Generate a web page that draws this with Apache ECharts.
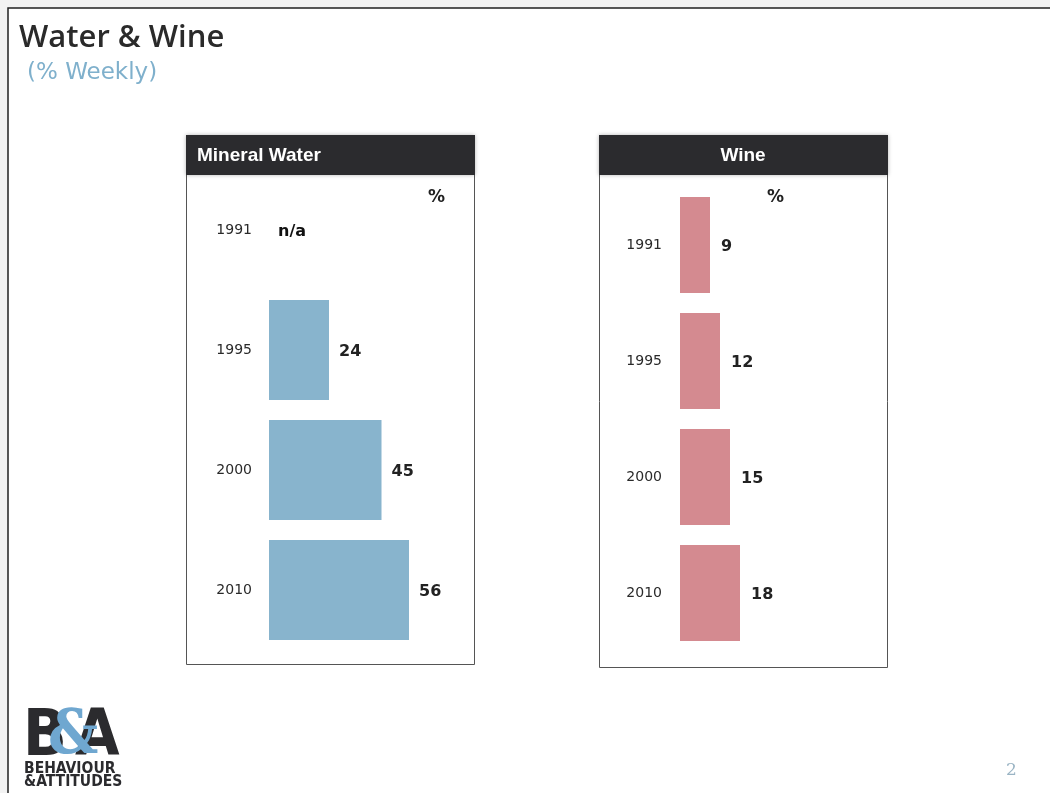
<!DOCTYPE html>
<html>
<head>
<meta charset="utf-8">
<script src="https://cdn.jsdelivr.net/npm/echarts@6/dist/echarts.min.js"></script>
<style>
html,body{margin:0;padding:0;background:#f3f3f3;}
#c{width:1050px;height:793px;}
</style>
</head>
<body>
<div id="c"></div>
<script>
const years = ['1991', '1995', '2000', '2010'];
const waterValues = [null, 24, 45, 56];
const wineValues = [9, 12, 15, 18];
const mainTitle = 'Water & Wine';
const subTitle = '(% Weekly)';
const panelTitles = ['Mineral Water', 'Wine'];

const chart = echarts.init(document.getElementById('c'), null, {renderer: 'canvas'});

const yearLabel = {color: '#2a2a2a', fontFamily: 'DejaVu Sans', fontSize: 14, margin: 17};
const valueLabel = {show: true, position: 'right', distance: 10, color: '#222', fontFamily: 'DejaVu Sans', fontWeight: 'bold', fontSize: 16, offset: [0, 2]};

const option = {
  animation: false,
  backgroundColor: '#f3f3f3',
  graphic: [
    {type: 'rect', z: -10, shape: {x: 8, y: 8, width: 1060, height: 800}, style: {fill: '#ffffff', stroke: '#222', lineWidth: 1.5}},
    {type: 'text', left: 19, top: 23, style: {text: mainTitle, fill: '#2a2a2a', font: '600 31px "Open Sans"'}},
    {type: 'text', left: 27, top: 62, style: {text: subTitle, fill: '#7fb0cc', font: '23px "DejaVu Sans"'}},
    // Mineral water panel
    {type: 'rect', z: -5, shape: {x: 186.5, y: 135.5, width: 288, height: 529}, style: {fill: '#fff', stroke: '#555', lineWidth: 1}},
    {type: 'rect', z: -4, shape: {x: 186, y: 135, width: 289, height: 40}, style: {fill: '#2b2b2e', shadowBlur: 4, shadowColor: 'rgba(0,0,0,0.3)'}},
    {type: 'text', left: 197, top: 146, style: {text: panelTitles[0], fill: '#fff', font: 'bold 19px "Liberation Sans"'}},
    {type: 'text', left: 428, top: 189, style: {text: '%', fill: '#222', font: 'bold 17px "DejaVu Sans"'}},
    // Wine panel
    {type: 'rect', z: -5, shape: {x: 599.5, y: 135.5, width: 288, height: 532}, style: {fill: '#fff', stroke: '#555', lineWidth: 1}},
    {type: 'rect', z: -4, shape: {x: 599, y: 135, width: 289, height: 40}, style: {fill: '#2b2b2e', shadowBlur: 4, shadowColor: 'rgba(0,0,0,0.3)'}},
    {type: 'text', x: 743, top: 146, style: {text: panelTitles[1], fill: '#fff', font: 'bold 19px "Liberation Sans"', textAlign: 'center'}},
    {type: 'text', left: 767, top: 189, style: {text: '%', fill: '#222', font: 'bold 17px "DejaVu Sans"'}},
    // logo
    {type: 'text', left: 23, top: 706, style: {text: 'B', fill: '#2b2b2e', font: 'bold 64px "DejaVu Sans Condensed"'}},
    {type: 'text', left: 75, top: 706, style: {text: 'A', fill: '#2b2b2e', font: 'bold 64px "DejaVu Sans Condensed"'}},
    {type: 'text', left: 48, top: 706, style: {text: '&', fill: '#6fa7d0', font: 'bold 62px "DejaVu Serif Condensed"'}},
    {type: 'text', left: 24, top: 761, style: {text: 'BEHAVIOUR', fill: '#2b2b2e', font: 'bold 15.5px "DejaVu Sans Condensed"'}},
    {type: 'text', left: 24, top: 774, style: {text: '&ATTITUDES', fill: '#2b2b2e', font: 'bold 15.5px "DejaVu Sans Condensed"'}},
    {type: 'text', left: 1006, top: 762, style: {text: '2', fill: '#9ab4c4', font: '17px "DejaVu Serif"'}}
  ],
  grid: [
    {left: 269, top: 170, width: 200, height: 480},
    {left: 680, top: 187, width: 180, height: 464}
  ],
  xAxis: [
    {gridIndex: 0, type: 'value', min: 0, max: 80, show: false},
    {gridIndex: 1, type: 'value', min: 0, max: 54, show: false}
  ],
  yAxis: [
    {gridIndex: 0, type: 'category', data: years, inverse: true, axisLine: {show: false}, axisTick: {show: false}, axisLabel: yearLabel},
    {gridIndex: 1, type: 'category', data: years, inverse: true, axisLine: {show: false}, axisTick: {show: false}, axisLabel: Object.assign({}, yearLabel, {margin: 18})}
  ],
  series: [
    {type: 'bar', xAxisIndex: 0, yAxisIndex: 0, data: waterValues, barWidth: 100,
     itemStyle: {color: '#88b4cd'}, label: valueLabel},
    {type: 'scatter', xAxisIndex: 0, yAxisIndex: 0, symbolSize: 0, itemStyle: {opacity: 1},
     data: waterValues.map((v, i) => v == null ? [0, i] : null).filter(d => d),
     label: {show: true, position: 'right', distance: 9, formatter: 'n/a', color: '#111', fontFamily: 'DejaVu Sans', fontWeight: 'bold', fontSize: 16, offset: [0, 2]}},
    {type: 'bar', xAxisIndex: 1, yAxisIndex: 1, data: wineValues, barWidth: 96,
     itemStyle: {color: '#d48a90'}, label: Object.assign({}, valueLabel, {distance: 11})}
  ]
};
chart.setOption(option);
</script>
</body>
</html>
